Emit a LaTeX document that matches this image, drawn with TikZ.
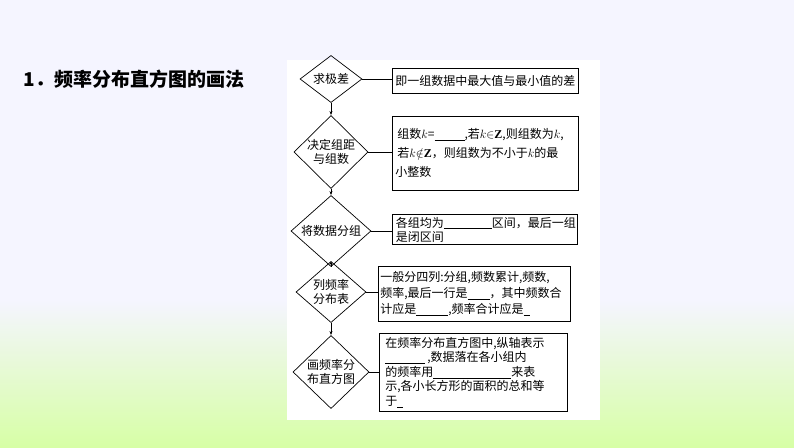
\documentclass[tikz,border=0pt]{standalone}
\usepackage{fontspec}
\setmainfont{Liberation Serif}
\newfontfamily\cjk{Noto Sans CJK SC}
\usetikzlibrary{shapes.geometric,arrows.meta}
\begin{document}
\begin{tikzpicture}[x=1pt,y=-1pt,
  dia/.style={diamond,draw,line width=0.7pt,inner sep=0pt,font=\cjk\fontsize{12}{14}\selectfont,align=center},
  box/.style={draw,line width=0.8pt,anchor=north west,inner sep=3pt,font=\cjk\fontsize{12}{16}\selectfont,align=left},
  conn/.style={line width=0.6pt},
  arr/.style={line width=0.6pt,-{Stealth[length=4pt,width=3pt]}}]
\useasboundingbox (0,0) rectangle (794,447);
\fill[blue!4] (0,0) rectangle (794,300);
\shade[top color=blue!4,bottom color=green!45!yellow!35] (0,300) rectangle (794,447);
\fill[white] (287,60) rectangle (600,420);
\node[anchor=west,font=\cjk\bfseries\fontsize{19}{22}\selectfont] (title) at (20,79) {1．频率分布直方图的画法};
\node[dia,minimum width=62pt,minimum height=36pt] (d1) at (331,79) {求极差};
\node[dia,minimum width=74pt,minimum height=68pt] (d2) at (331,152) {决定组距\\与组数};
\node[dia,minimum width=80pt,minimum height=47pt] (d3) at (331,231) {将数据分组};
\node[dia,minimum width=70pt,minimum height=58pt] (d4) at (331,292) {列频率\\分布表};
\node[dia,minimum width=76pt,minimum height=71pt] (d5) at (331,372) {画频率分\\布直方图};
\node[box,minimum width=186pt,minimum height=25pt,inner sep=2pt] (b1) at (392,68) {即一组数据中最大值与最小值的差};
\node[box,minimum width=185pt,minimum height=74pt,text width=180pt,font=\cjk\fontsize{12}{19}\selectfont] (b2) at (392,116) {\mbox{\,组数$k$=\underline{\hspace{30pt}},若$k{\in}\mathbf{Z}$,则组数为$k$,}\\ \mbox{\,若$k{\notin}\mathbf{Z}$，则组数为不小于$k$的最}\\小整数};
\node[box,minimum width=185pt,minimum height=30pt,text width=178pt,font=\cjk\fontsize{12}{14}\selectfont,inner sep=2pt] (b3) at (392,214) {各组均为\underline{\hspace{48pt}}区间，最后一组\\是闭区间};
\node[box,minimum width=192pt,minimum height=55pt,text width=188pt,font=\cjk\fontsize{12}{16}\selectfont,inner sep=2pt] (b4) at (378,266) {一般分四列:分组,频数累计,频数,\\频率,最后一行是\underline{\hspace{22pt}}，其中频数合\\计应是\underline{\hspace{32pt}},频率合计应是\underline{\hspace{6pt}}};
\node[box,minimum width=188pt,minimum height=78pt,text width=180pt,font=\cjk\fontsize{12}{14.5}\selectfont,inner sep=2pt] (b5) at (379,333) {\,在频率分布直方图中,纵轴表示\\\,\underline{\hspace{40pt}}\,,数据落在各小组内\\\,的频率用\underline{\hspace{78pt}}来表\\\,示,各小长方形的面积的总和等\\\,于\underline{\hspace{6pt}}};
\draw[conn] (d1.east) -- (d1.east -| b1.west);
\draw[conn] (d2.east) -- (d2.east -| b2.west);
\draw[conn] (d3.east) -- (d3.east -| b3.west);
\draw[conn] (d4.east) -- (d4.east -| b4.west);
\draw[conn] (d5.east) -- (d5.east -| b5.west);
\draw[arr] (d1.south) -- (d2.north);
\draw[arr] (d2.south) -- (d3.north);
\draw[arr] (d3.south) -- (d4.north);
\draw[arr] (d4.south) -- (d5.north);
\end{tikzpicture}
\end{document}
